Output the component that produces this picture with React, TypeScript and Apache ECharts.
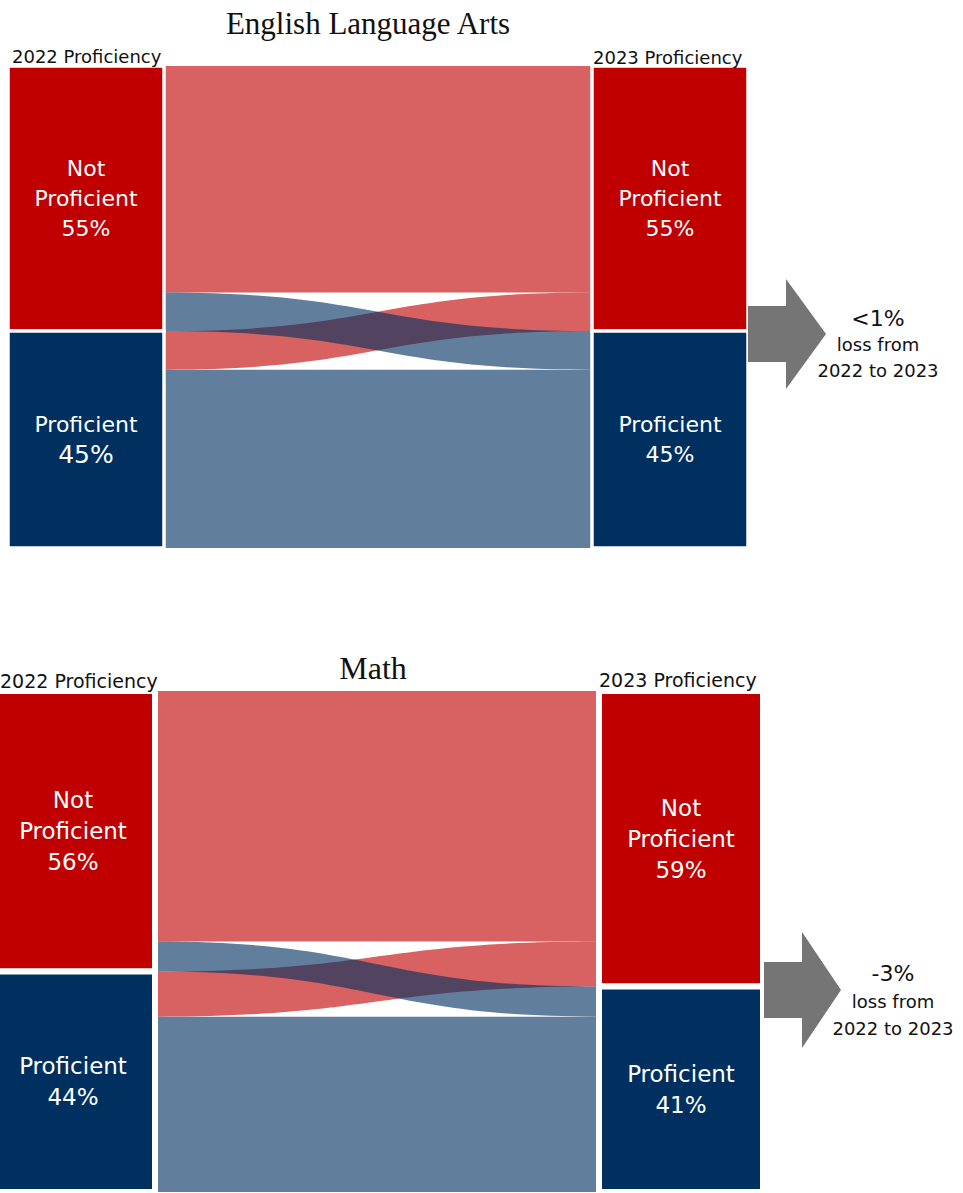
import React, { useEffect, useRef } from "react";
import * as echarts from "echarts";

// Proficiency categories, top to bottom in each column
const statusLabels = ["Not\nProficient", "Proficient"];
const statusColors = ["#C00000", "#003060"];
const yearLabels = ["2022 Proficiency", "2023 Proficiency"];

// Flows (share of students, %): [NP→NP, NP→P, P→NP, P→P]
const elaFlows = [47, 8, 8, 37];
const mathFlows = [50, 6, 9, 35];

const elaChange = "<1%";
const mathChange = "-3%";
const changeCaption = "loss from\n2022 to 2023";

const SANS = "'DejaVu Sans', Verdana, sans-serif";
const SERIF = "'Liberation Serif', 'Times New Roman', serif";

function buildSankey(
  flows: number[],
  box: { left: number; top: number; width: number; height: number; nodeWidth: number; border: number },
  fontSize: number,
  bigPctNode: number | null
) {
  const ids = ["np22", "p22", "np23", "p23"];
  const nodes = ids.map((id, i) => {
    const status = i % 2;
    const pctSize = bigPctNode === i ? fontSize + 3 : fontSize;
    return {
      name: id,
      itemStyle: { color: statusColors[status] },
      label: {
        show: true,
        position: "inside",
        formatter: (p: any) => `{n|${statusLabels[status].split("\n").join("}\n{n|")}}\n{v|${p.value}%}`,
        rich: {
          n: { fontSize, lineHeight: fontSize + 8, color: "#fff", fontFamily: SANS },
          v: { fontSize: pctSize, lineHeight: fontSize + 8, color: "#fff", fontFamily: SANS },
        },
      },
    };
  });
  // Draw order: red-target bands first, blue-target bands on top
  const links = [
    { source: "np22", target: "np23", value: flows[0] },
    { source: "p22", target: "np23", value: flows[2] },
    { source: "np22", target: "p23", value: flows[1] },
    { source: "p22", target: "p23", value: flows[3] },
  ];
  return {
    type: "sankey",
    left: box.left,
    top: box.top,
    width: box.width,
    height: box.height,
    nodeWidth: box.nodeWidth,
    nodeGap: 0,
    layoutIterations: 0,
    draggable: false,
    emphasis: { disabled: true },
    itemStyle: { borderColor: "#ffffff", borderWidth: box.border },
    lineStyle: { color: "target", opacity: 0.62, curveness: 0.5 },
    data: nodes,
    links,
  };
}

function arrow(x0: number, x1: number, tip: number, cy: number, bodyHalf: number, headHalf: number) {
  return {
    type: "polygon",
    z: 100,
    shape: {
      points: [
        [x0, cy - bodyHalf],
        [x1, cy - bodyHalf],
        [x1, cy - headHalf],
        [tip, cy],
        [x1, cy + headHalf],
        [x1, cy + bodyHalf],
        [x0, cy + bodyHalf],
      ],
    },
    style: { fill: "#757575" },
    silent: true,
  };
}

function text(str: string, x: number, y: number, size: number, family: string, align = "center", lineHeight?: number) {
  return {
    type: "text",
    x,
    y,
    z: 100,
    silent: true,
    style: {
      text: str,
      fontSize: size,
      fontFamily: family,
      fill: "#111",
      align,
      verticalAlign: "middle",
      lineHeight: lineHeight ?? size + 4,
    },
  };
}

export default function App() {
  const ref = useRef<HTMLDivElement>(null);

  useEffect(() => {
    document.body.style.margin = "0";
    if (!ref.current) return;
    const chart = echarts.init(ref.current, undefined, { renderer: "svg" });
    chart.setOption({
      animation: false,
      backgroundColor: "#ffffff",
      series: [
        buildSankey(elaFlows, { left: 8, top: 66, width: 740, height: 482, nodeWidth: 156, border: 3.5 }, 22, 1),
        buildSankey(mathFlows, { left: -9, top: 691, width: 772, height: 501, nodeWidth: 164, border: 6 }, 23, null),
      ],
      graphic: [
        text("English Language Arts", 368, 23, 31, SERIF),
        text(yearLabels[0], 12, 56, 18, SANS, "left"),
        text(yearLabels[1], 593, 57, 18, SANS, "left"),
        arrow(748, 786, 826, 334, 28, 55),
        text(elaChange, 878, 318, 22, SANS),
        text(changeCaption, 878, 357, 18, SANS, "center", 26),

        text("Math", 373, 668, 32, SERIF),
        text(yearLabels[0], 0, 681, 19, SANS, "left"),
        text(yearLabels[1], 599, 680, 19, SANS, "left"),
        arrow(764, 802, 841, 990, 28, 58),
        text(mathChange, 893, 973, 22, SANS),
        text(changeCaption, 893, 1015, 18, SANS, "center", 27),
      ],
    });
    return () => chart.dispose();
  }, []);

  return <div ref={ref} style={{ position: "absolute", left: 0, top: 0, width: 963, height: 1193 }} />;
}
